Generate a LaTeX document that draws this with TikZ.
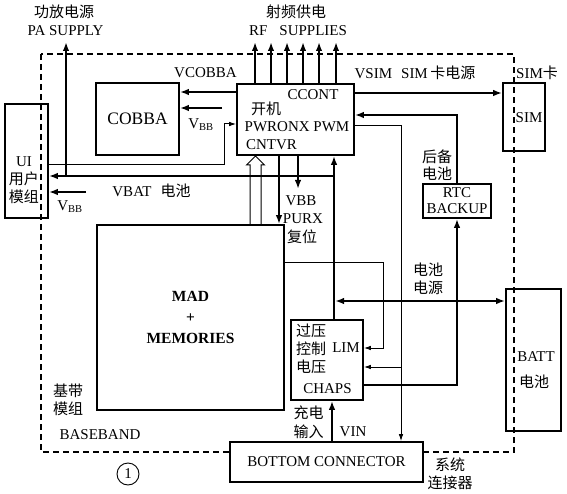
\documentclass[tikz,border=0pt]{standalone}
\usepackage{fontspec}
\setmainfont{Liberation Serif}
\newfontfamily\cjk{Noto Sans CJK SC}
\usetikzlibrary{arrows.meta, calc}

\tikzset{
    box/.style={draw, line width=1.6pt, inner sep=0pt},
    lbl/.style={inner sep=0pt},
    thk/.style={line width=2.2pt, -{Latex[length=9pt,width=6.5pt]}},
    thn/.style={line width=1pt, -{Latex[length=7pt,width=4.5pt]}},
}

\begin{document}
\begin{tikzpicture}[x=1pt, y=-1pt, every node/.style={font=\fontsize{15}{18}\selectfont}]
        \useasboundingbox (0,0) rectangle (567,494);

        % baseband border
        \coordinate (bbnw) at (41,54);
        \coordinate (bbse) at (514,452);
        \draw[line width=1.1pt, dash pattern=on 6pt off 4pt] (bbnw) rectangle (bbse);

        % boxes
        \node[box, minimum width=43pt, minimum height=114pt] (ui) at (26.5,161) {};
        \node[lbl, align=center] (uitxt) at (24,180) {UI\\{\cjk 用户}\\{\cjk 模组}};
        \node[box, minimum width=83pt, minimum height=72pt, font=\fontsize{17.5}{20}\selectfont] (cobba) at (137.5,119) {COBBA};
        \node[box, minimum width=117pt, minimum height=71pt] (ccont) at (295.5,119.5) {};
        \node[lbl] (cc1) at (313,95) {CCONT};
        \node[lbl] (cc2) at (266,109) {\cjk 开机};
        \node[lbl] (cc3) at (297,127) {PWRONX PWM};
        \node[lbl] (cc4) at (271.5,145) {CNTVR};
        \node[box, minimum width=42pt, minimum height=68pt] (sim) at (524,117) {};
        \node[lbl] (simtxt) at (529,118) {SIM};
        \node[box, minimum width=68pt, minimum height=34pt, align=center, font=\fontsize{15}{16}\selectfont] (rtc) at (457,201) {RTC\\BACKUP};
        \node[box, minimum width=187pt, minimum height=185pt, align=center, font=\bfseries\fontsize{15.5}{21}\selectfont] (mad) at (190.5,317.5) {MAD\\+\\MEMORIES};
        \node[box, minimum width=72pt, minimum height=80pt] (chaps) at (327,360) {};
        \node[lbl] (ch1) at (311,331) {\cjk 过压};
        \node[lbl] (ch2) at (311,349) {\cjk 控制};
        \node[lbl] (ch3) at (346,348) {LIM};
        \node[lbl] (ch4) at (311,367) {\cjk 电压};
        \node[lbl] (ch5) at (327.5,389) {CHAPS};
        \node[box, minimum width=55pt, minimum height=142pt] (batt) at (533.5,360) {};
        \node[lbl] (bt1) at (536,357) {BATT};
        \node[lbl] (bt2) at (534,382) {\cjk 电池};
        \node[box, fill=white, minimum width=193pt, minimum height=40pt] (conn) at (326.5,462) {BOTTOM CONNECTOR};

        % supplies out of the baseband
        \coordinate (vbat) at (334,176);
        \coordinate (pa) at (66,42);
        \draw[thk] (chaps.north -| vbat) -- (ccont.south -| vbat);
        \draw[thk] (vbat) -- (ui.east |- vbat);
        \draw[thk] (pa |- vbat) -- (pa);
        \node[lbl] (pa1) at (64,12) {\cjk 功放电源};
        \node[lbl] (pa2) at (65.5,31) {PA SUPPLY};
        \foreach \x [count=\i] in {255,271,287,303,319,336} {
            \coordinate (rf\i) at (\x,42);
            \draw[thk] (ccont.north -| rf\i) -- (rf\i);
        }
        \node[lbl] (rf1txt) at (296,12) {\cjk 射频供电};
        \node[lbl] (rf2txt) at (298,31) {RF\hspace{0.8em}SUPPLIES};

        % COBBA and UI
        \draw[thk] (ccont.west |- 0,92) -- (cobba.east |- 0,92);
        \node[lbl] (vcob) at (205.5,73) {VCOBBA};
        \coordinate (vbbc) at (222,108);
        \draw[thk] (vbbc) -- (cobba.east |- vbbc);
        \node[lbl] (vbbctxt) at (201,125) {V\textsubscript{BB}};
        \draw[thn] (ui.east |- 0,165) -- (224,165) -- (224,124) -- (ccont.west |- 0,124);
        \coordinate (vbbu) at (86,192);
        \draw[thk] (vbbu) -- (ui.east |- vbbu);
        \node[lbl] (vbbutxt) at (70,207) {V\textsubscript{BB}};
        \node[lbl] (vbattxt) at (151.5,191) {VBAT\hspace{0.6em}{\cjk 电池}};

        % CCONT and MAD
        \draw[thk] (ccont.south -| 279,0) -- (mad.north -| 279,0);
        \draw[line width=1pt] (mad.north -| 250,0) -- (250,165) -- (246.5,165) -- (255.5,156) -- (264.5,165) -- (261,165) -- (mad.north -| 261,0);
        \coordinate (purx) at (298,189);
        \draw[thk] (ccont.south -| purx) -- (purx);
        \node[lbl] (purx1) at (301,201) {VBB};
        \node[lbl] (purx2) at (303,219) {PURX};
        \node[lbl] (purx3) at (302,237) {\cjk 复位};

        % SIM and RTC
        \draw[thk] (ccont.east |- 0,93) -- (sim.west |- 0,93);
        \node[lbl] (vsim) at (415,73) {VSIM\hspace{0.6em}SIM\,{\cjk 卡电源}};
        \node[lbl] (simcard) at (537,73) {SIM{\cjk 卡}};
        \draw[thk] (rtc.north) -- (rtc.north |- 0,115) -- (ccont.east |- 0,115);
        \draw[thk] (chaps.east |- 0,385) -- (rtc.south |- 0,385) -- (rtc.south);
        \node[lbl] (bk1) at (437,157) {\cjk 后备};
        \node[lbl] (bk2) at (437,174) {\cjk 电池};

        % PWM and LIM
        \draw[thn] (ccont.east |- 0,126) -- (401,126) -- (conn.north -| 401,0);
        \draw[thn] (401,367) -- (chaps.east |- 0,367);
        \draw[thn] (mad.east |- 0,262) -- (383,262) -- (383,348) -- (chaps.east |- 0,348);

        % battery and charger
        \draw[thk, {Latex[length=9pt,width=6.5pt]}-{Latex[length=9pt,width=6.5pt]}] (335,301) -- (batt.west |- 0,301);
        \node[lbl] (bs1) at (428,270) {\cjk 电池};
        \node[lbl] (bs2) at (428,288) {\cjk 电源};
        \draw[thk] (conn.north -| 332,0) -- (chaps.south -| 332,0);
        \node[lbl] (vin1) at (308.5,413) {\cjk 充电};
        \node[lbl] (vin2) at (308.5,432) {\cjk 输入};
        \node[lbl] (vin3) at (353,432) {VIN};

        % captions
        \node[lbl] (bb1) at (68,391) {\cjk 基带};
        \node[lbl] (bb2) at (68,409) {\cjk 模组};
        \node[lbl] (bb3) at (100,435) {BASEBAND};
        \node[circle, draw, line width=0.9pt, minimum size=22pt, inner sep=0pt] (num) at (128,474) {1};
        \node[lbl] (sys1) at (450,465) {\cjk 系统};
        \node[lbl] (sys2) at (450,483) {\cjk 连接器};
\end{tikzpicture}
\end{document}
